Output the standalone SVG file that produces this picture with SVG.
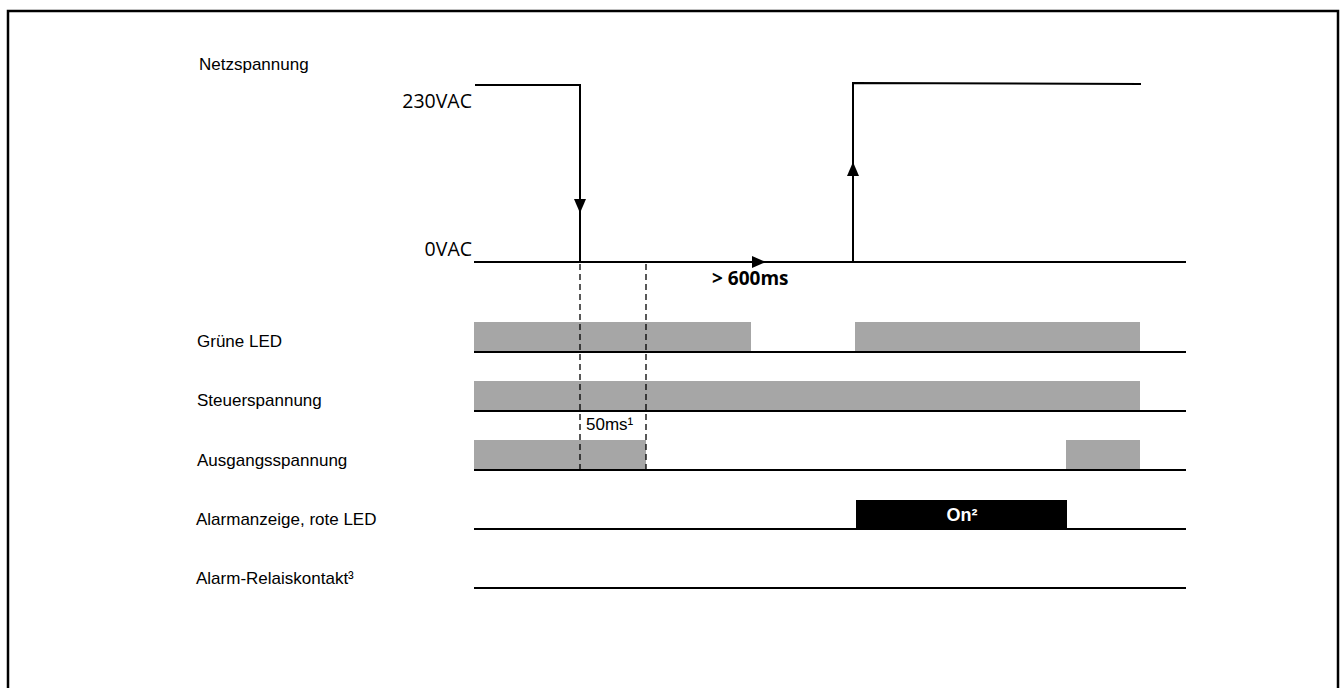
<svg xmlns="http://www.w3.org/2000/svg" width="1342" height="688" viewBox="0 0 1342 688">
<style>
.lbl{font-family:"Liberation Sans",Arial,sans-serif;font-size:17px;fill:#000}
.val{font-family:"Open Sans","Noto Sans",sans-serif;font-size:19.5px;fill:#000}
.base{stroke:#000;stroke-width:2.2;fill:none}
.sig{stroke:#000;stroke-width:2;fill:none}
.bar{fill:#a6a6a6}
.dash{stroke:#000;stroke-width:1.3;stroke-dasharray:6,4;fill:none}
</style>
<defs>
<marker id="ah" markerWidth="14" markerHeight="12" refX="14" refY="6" orient="auto" markerUnits="userSpaceOnUse" viewBox="0 0 14 12">
<path d="M0,0 L14,6 L0,12 z" fill="#000"/>
</marker>
</defs>
<rect x="8" y="11" width="1330" height="690" fill="#fff" stroke="#000" stroke-width="2.5"/>

<g id="netzspannung">
<text class="lbl" x="199" y="70">Netzspannung</text>
<text class="val" x="472" y="108" text-anchor="end">230VAC</text>
<text class="val" x="472" y="256" text-anchor="end">0VAC</text>
</g>

<g id="gruene-led">
<text class="lbl" x="197" y="347">Grüne LED</text>
<rect class="bar" x="474" y="322" width="277" height="30"/>
<rect class="bar" x="855" y="322" width="285" height="30"/>
</g>
<g id="steuerspannung">
<text class="lbl" x="197" y="406">Steuerspannung</text>
<rect class="bar" x="474" y="381" width="666" height="30"/>
</g>
<g id="ausgangsspannung">
<text class="lbl" x="197" y="466">Ausgangsspannung</text>
<rect class="bar" x="474" y="440" width="172" height="30"/>
<rect class="bar" x="1066" y="440" width="74" height="30"/>
</g>
<g id="alarmanzeige">
<text class="lbl" x="196" y="525">Alarmanzeige, rote LED</text>
<rect x="856" y="500" width="211" height="29" fill="#000"/>
<text x="962" y="521" text-anchor="middle" font-family="Liberation Sans,Arial,sans-serif" font-size="18" font-weight="bold" fill="#fff">On²</text>
</g>
<g id="alarm-relais">
<text class="lbl" x="196" y="584">Alarm-Relaiskontakt³</text>
</g>

<g id="connectors">
<line class="base" x1="474" y1="262" x2="1186" y2="262"/>
<line class="base" x1="474" y1="352" x2="1186" y2="352"/>
<line class="base" x1="474" y1="411" x2="1186" y2="411"/>
<line class="base" x1="474" y1="470" x2="1186" y2="470"/>
<line class="base" x1="474" y1="529" x2="1186" y2="529"/>
<line class="base" x1="474" y1="588" x2="1186" y2="588"/>
<polyline class="sig" points="475,85 580,85 580,262"/>
<line class="sig" x1="580" y1="150" x2="580" y2="213" marker-end="url(#ah)"/>
<polyline class="sig" points="853,262 853,83 1141,84"/>
<line class="sig" x1="853" y1="230" x2="853" y2="162" marker-end="url(#ah)"/>
<line class="sig" x1="580" y1="262" x2="766" y2="262" marker-end="url(#ah)"/>
<line class="dash" x1="580" y1="264" x2="580" y2="470"/>
<line class="dash" x1="646" y1="264" x2="646" y2="470"/>
<text x="712" y="285" font-family="Open Sans,Noto Sans,sans-serif" font-size="19" font-weight="bold" fill="#000">&gt; 600ms</text>
<text class="lbl" x="586" y="430">50ms¹</text>
</g>
</svg>
